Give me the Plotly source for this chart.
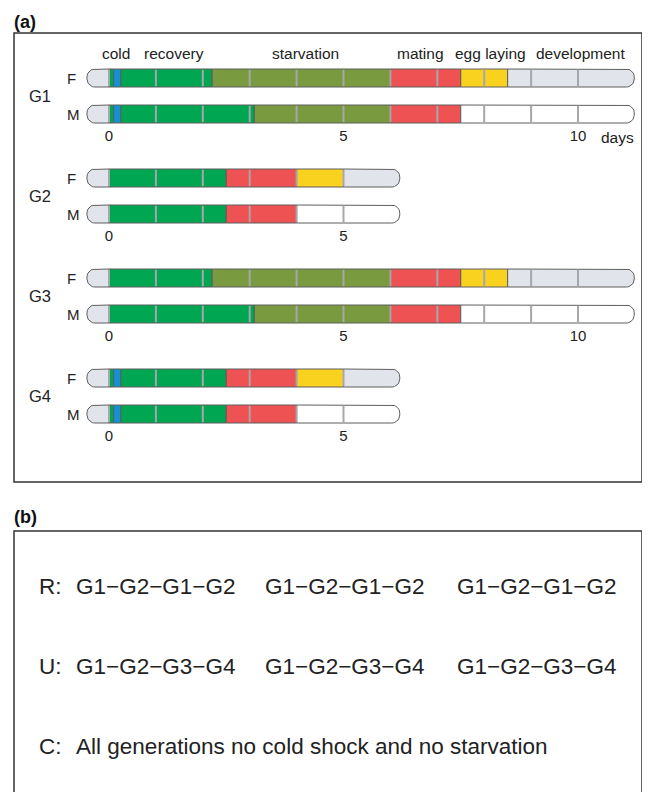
import numpy as np
import plotly.graph_objects as go

# ---------------- data ----------------
generations = ["G1", "G2", "G3", "G4"]
sexes = ["F", "M"]

g1_f_stages = ["pre", "recovery", "cold", "recovery", "starvation", "mating", "egg laying", "development"]
g1_f_bounds = [-0.47, 0, 0.1, 0.25, 2.2, 6, 7.5, 8.5, 11.2]
g1_m_stages = ["pre", "recovery", "cold", "recovery", "starvation", "mating", "none"]
g1_m_bounds = [-0.47, 0, 0.1, 0.25, 3.1, 6, 7.5, 11.2]

g2_f_stages = ["pre", "recovery", "mating", "egg laying", "development"]
g2_f_bounds = [-0.47, 0, 2.5, 4, 5, 6.2]
g2_m_stages = ["pre", "recovery", "mating", "none"]
g2_m_bounds = [-0.47, 0, 2.5, 4, 6.2]

g3_f_stages = ["pre", "recovery", "starvation", "mating", "egg laying", "development"]
g3_f_bounds = [-0.47, 0, 2.2, 6, 7.5, 8.5, 11.2]
g3_m_stages = ["pre", "recovery", "starvation", "mating", "none"]
g3_m_bounds = [-0.47, 0, 3.1, 6, 7.5, 11.2]

g4_f_stages = ["pre", "recovery", "cold", "recovery", "mating", "egg laying", "development"]
g4_f_bounds = [-0.47, 0, 0.1, 0.25, 2.5, 4, 5, 6.2]
g4_m_stages = ["pre", "recovery", "cold", "recovery", "mating", "none"]
g4_m_bounds = [-0.47, 0, 0.1, 0.25, 2.5, 4, 6.2]

last_day_line = [10, 5, 10, 5]
g1_ticks = [0, 5, 10]
g2_ticks = [0, 5]
g3_ticks = [0, 5, 10]
g4_ticks = [0, 5]

header_labels = ["cold", "recovery", "starvation", "mating", "egg laying", "development"]
header_x = [0.15, 1.39, 4.19, 6.65, 8.14, 10.06]

schemes_r = ["G1−G2−G1−G2", "G1−G2−G1−G2", "G1−G2−G1−G2"]
schemes_u = ["G1−G2−G3−G4", "G1−G2−G3−G4", "G1−G2−G3−G4"]
scheme_c = "All generations no cold shock and no starvation"

stage_colors = {
    "pre": "#E1E4EA", "cold": "#1A8FD8", "recovery": "#00A651",
    "starvation": "#7A9A3F", "mating": "#EE5253", "egg laying": "#F9D21F",
    "development": "#E1E4EA", "none": "#FFFFFF",
}

rows = [
    [(g1_f_stages, g1_f_bounds), (g1_m_stages, g1_m_bounds)],
    [(g2_f_stages, g2_f_bounds), (g2_m_stages, g2_m_bounds)],
    [(g3_f_stages, g3_f_bounds), (g3_m_stages, g3_m_bounds)],
    [(g4_f_stages, g4_f_bounds), (g4_m_stages, g4_m_bounds)],
]
ticks = [g1_ticks, g2_ticks, g3_ticks, g4_ticks]

# ---------------- layout geometry ----------------
# the page body has an 8px margin, so the figure is shifted by OFF px
OFF = 8
PAGE_W, PAGE_H = 650, 792
W, H = PAGE_W - OFF, PAGE_H - OFF
PX_PER_DAY = 46.9
X0_PX = 109          # page x of day 0
BAR_H = 18
R_PX = 8
rx = R_PX / PX_PER_DAY
ry = R_PX
group_y = [78, 178, 278, 378]
sex_dy = 36
FONT = "Liberation Sans, Arial, Helvetica, sans-serif"
OUTLINE = "#5E5E5E"
DAYLINE = "#A4A7AB"


def px_x(page_x):
    return (page_x - OFF) / W


def rounded_piece(xs, xe, yc, side):
    top, bot = yc - BAR_H / 2, yc + BAR_H / 2
    t = np.linspace(0, np.pi / 2, 10)
    if side == "left":
        cx = xs + rx
        px = [xe, cx] + list(cx - rx * np.sin(t)) + list(cx - rx * np.cos(t)) + [xe, xe]
    else:
        cx = xe - rx
        px = [xs, cx] + list(cx + rx * np.sin(t)) + list(cx + rx * np.cos(t)) + [xs, xs]
    py = [top, top] + list(top + ry - ry * np.cos(t)) + list(bot - ry + ry * np.sin(t)) + [bot, top]
    return px, py


fig = go.Figure()

bar_x, bar_base, bar_y, bar_col = [], [], [], []
piece_traces = []
line_x, line_y = [], []
for gi, grp in enumerate(rows):
    for si, (stages, bounds) in enumerate(grp):
        yc = group_y[gi] + si * sex_dy
        n = len(stages)
        for k in range(1, n - 1):
            bar_base.append(bounds[k])
            bar_x.append(bounds[k + 1] - bounds[k])
            bar_y.append(yc)
            bar_col.append(stage_colors[stages[k]])
        lx, ly = rounded_piece(bounds[0], bounds[1], yc, "left")
        piece_traces.append((lx, ly, stage_colors[stages[0]]))
        rxp, ryp = rounded_piece(bounds[n - 1], bounds[n], yc, "right")
        piece_traces.append((rxp, ryp, stage_colors[stages[n - 1]]))
        for d in range(0, last_day_line[gi] + 1):
            line_x += [d, d, None]
            line_y += [yc - BAR_H / 2 + 0.8, yc + BAR_H / 2 - 0.8, None]

fig.add_trace(go.Bar(
    orientation="h", x=bar_x, base=bar_base, y=bar_y, width=BAR_H,
    marker=dict(color=bar_col, line=dict(color=OUTLINE, width=1)),
    hoverinfo="skip", showlegend=False,
))
for px, py, col in piece_traces:
    fig.add_trace(go.Scatter(
        x=px, y=py, mode="lines", fill="toself", fillcolor=col,
        line=dict(color=OUTLINE, width=1), hoverinfo="skip", showlegend=False,
    ))
fig.add_trace(go.Scatter(
    x=line_x, y=line_y, mode="lines", line=dict(color=DAYLINE, width=2),
    hoverinfo="skip", showlegend=False,
))

# tick labels
tx, ty, tt = [], [], []
for gi, tv in enumerate(ticks):
    for v in tv:
        tx.append(v)
        ty.append(group_y[gi] + sex_dy + 23)
        tt.append(str(v))
fig.add_trace(go.Scatter(
    x=tx, y=ty, text=tt, mode="text", textfont=dict(family=FONT, size=15, color="#222"),
    hoverinfo="skip", showlegend=False,
))

ann = []
for lab, hx in zip(header_labels, header_x):
    ann.append(dict(x=hx, y=53, xref="x", yref="y", text=lab, showarrow=False,
                    font=dict(family=FONT, size=15.5, color="#222"), xanchor="center", yanchor="middle"))
ann.append(dict(x=10.85, y=group_y[0] + sex_dy + 23, xref="x", yref="y", text="days", showarrow=False,
                font=dict(family=FONT, size=15.5, color="#222"), xanchor="center", yanchor="middle"))
for gi, g in enumerate(generations):
    ann.append(dict(x=px_x(27), y=group_y[gi] + sex_dy / 2, xref="paper", yref="y", text=g, showarrow=False,
                    font=dict(family=FONT, size=16.5, color="#222"), xanchor="left", yanchor="middle"))
    for si, s in enumerate(sexes):
        ann.append(dict(x=px_x(65), y=group_y[gi] + si * sex_dy, xref="paper", yref="y", text=s, showarrow=False,
                        font=dict(family=FONT, size=15, color="#222"), xanchor="left", yanchor="middle"))

ann.append(dict(x=px_x(12), y=22, xref="paper", yref="y", text="<b>(a)</b>", showarrow=False,
                font=dict(family=FONT, size=18, color="#111"), xanchor="left", yanchor="middle"))
ann.append(dict(x=px_x(12), y=517, xref="paper", yref="y", text="<b>(b)</b>", showarrow=False,
                font=dict(family=FONT, size=18, color="#111"), xanchor="left", yanchor="middle"))

scheme_x = [74, 263, 455]
bfont = dict(family=FONT, size=22.5, color="#222")
for lab, yy, items in [("R:", 586, schemes_r), ("U:", 666, schemes_u)]:
    ann.append(dict(x=px_x(37), y=yy, xref="paper", yref="y", text=lab, showarrow=False,
                    font=bfont, xanchor="left", yanchor="middle"))
    for sx, it in zip(scheme_x, items):
        ann.append(dict(x=px_x(sx), y=yy, xref="paper", yref="y", text=it, showarrow=False,
                        font=bfont, xanchor="left", yanchor="middle"))
ann.append(dict(x=px_x(37), y=746, xref="paper", yref="y", text="C:", showarrow=False,
                font=bfont, xanchor="left", yanchor="middle"))
ann.append(dict(x=px_x(74), y=746, xref="paper", yref="y", text=scheme_c, showarrow=False,
                font=bfont, xanchor="left", yanchor="middle"))

shapes = [
    dict(type="rect", xref="paper", yref="y", x0=px_x(14), x1=px_x(642), y0=33, y1=482,
         line=dict(color="#333", width=1.5), fillcolor="rgba(0,0,0,0)", layer="below"),
    dict(type="rect", xref="paper", yref="y", x0=px_x(14), x1=px_x(642), y0=531, y1=800,
         line=dict(color="#333", width=1.5), fillcolor="rgba(0,0,0,0)", layer="below"),
]

fig.update_layout(
    width=W, height=H, margin=dict(l=0, r=0, t=0, b=0),
    paper_bgcolor="white", plot_bgcolor="white",
    barmode="overlay", annotations=ann, shapes=shapes, showlegend=False,
    xaxis=dict(range=[(OFF - X0_PX) / PX_PER_DAY, (PAGE_W - X0_PX) / PX_PER_DAY],
               visible=False, fixedrange=True),
    yaxis=dict(range=[PAGE_H, OFF], visible=False, fixedrange=True),
)

fig.write_html("out.html")
